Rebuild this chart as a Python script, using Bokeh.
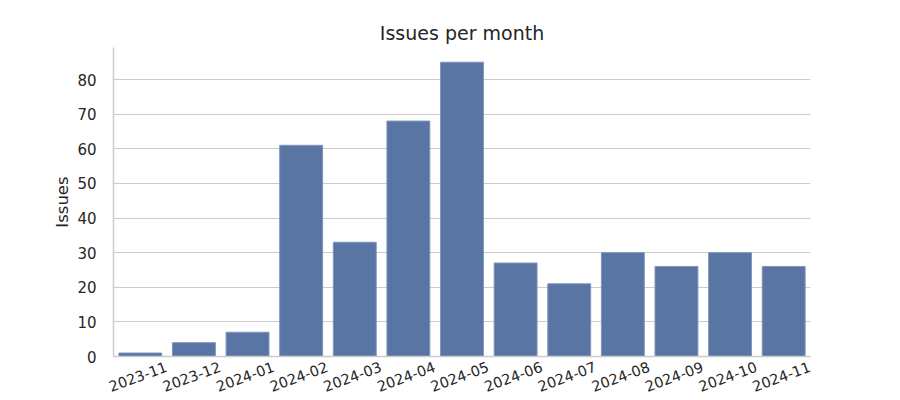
import math
from bokeh.plotting import figure
from bokeh.models import Range1d, FixedTicker, SingleIntervalTicker, LinearAxis
from bokeh.embed import file_html
from bokeh.resources import INLINE

months = ["2023-11", "2023-12", "2024-01", "2024-02", "2024-03", "2024-04", "2024-05",
          "2024-06", "2024-07", "2024-08", "2024-09", "2024-10", "2024-11"]
issues = [1, 4, 7, 61, 33, 68, 85, 27, 21, 30, 26, 30, 26]

pos = list(range(len(months)))
n = len(months)
FONT = "DejaVu Sans"
TXT = "#262626"

p = figure(frame_width=697, frame_height=309, x_range=Range1d(-0.5, n - 0.5),
           y_range=Range1d(0, max(issues) * 1.05), output_backend="svg", toolbar_location=None,
           min_border_left=113, min_border_right=90, min_border_top=47, min_border_bottom=0,
           title="Issues per month", x_axis_location=None)
p.vbar(x=pos, top=issues, width=0.8, fill_color="#5875a4", line_color="#7f95bd", line_width=1)

p.title.text_font = FONT
p.title.text_font_size = "19px"
p.title.text_font_style = "normal"
p.title.text_color = TXT
p.title.align = "center"
p.title.standoff = 8

p.outline_line_color = None
p.xgrid.grid_line_color = None
p.ygrid.grid_line_color = "#cccccc"
p.ygrid.grid_line_width = 1

# label axis shifted so rotated labels are centred under each bar
shift = 0.49
p.extra_x_ranges = {"lab": Range1d(-0.5 - shift, n - 0.5 - shift)}
xax = LinearAxis(x_range_name="lab", ticker=FixedTicker(ticks=pos),
                 major_label_overrides={i: m for i, m in zip(pos, months)})
p.add_layout(xax, "below")

p.yaxis.ticker = SingleIntervalTicker(interval=10)
p.yaxis.axis_label = "Issues"
for ax in (xax, p.yaxis[0]):
    ax.major_tick_line_color = None
    ax.minor_tick_line_color = None
    ax.major_label_text_font = FONT
    ax.major_label_text_font_size = "15px"
    ax.major_label_text_color = TXT
    ax.axis_label_text_font = FONT
    ax.axis_label_text_font_size = "16.5px"
    ax.axis_label_text_font_style = "normal"
    ax.axis_label_text_color = TXT
    ax.axis_line_color = "#cccccc"
    ax.axis_line_width = 1.5
xax.major_label_text_font_size = "14.5px"
xax.major_label_orientation = math.radians(20)
xax.major_label_standoff = 4
p.yaxis.major_label_standoff = 11
p.yaxis.axis_label_standoff = 2

open("out.html", "w").write(file_html(p, INLINE))
